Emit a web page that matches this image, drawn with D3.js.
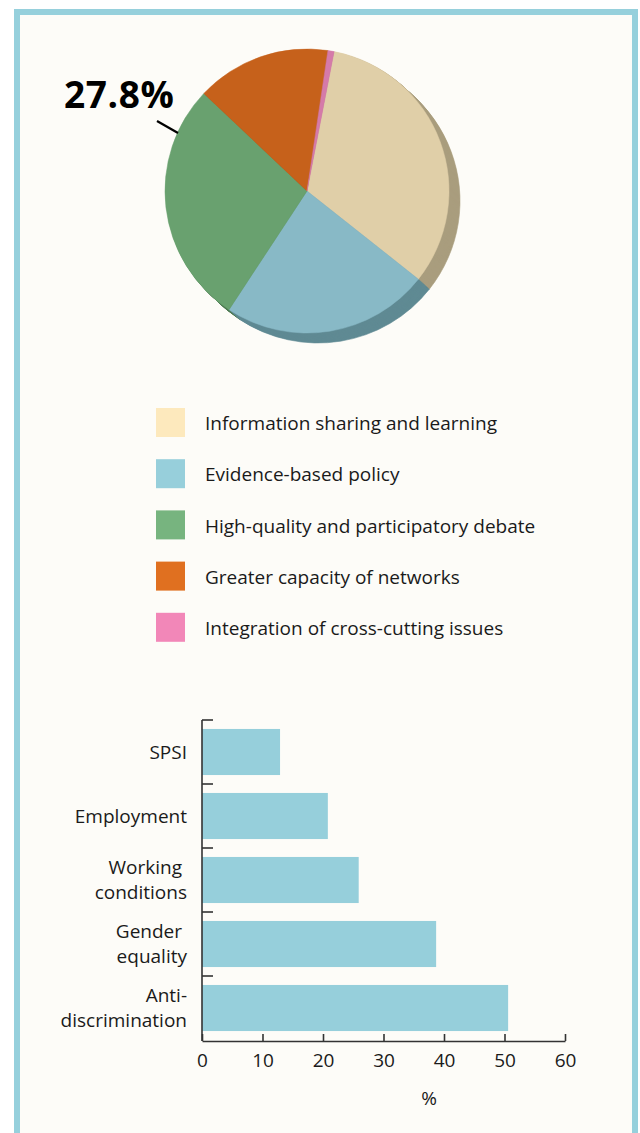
<!DOCTYPE html>
<html>
<head>
<meta charset="utf-8">
<script src="https://cdn.jsdelivr.net/npm/d3@7"></script>
<style>
  body { margin: 0; background: #ffffff; }
  svg { display: block; }
  text { font-family: "Open Sans", "Noto Sans", sans-serif; fill: #1a1a1a; }
</style>
</head>
<body>
<svg id="chart" width="640" height="1133"></svg>
<script>
// ---- Pie: outcome shares (%) ----
const pieCategories = [
  "Information sharing and learning",
  "Evidence-based policy",
  "High-quality and participatory debate",
  "Greater capacity of networks",
  "Integration of cross-cutting issues"
];
const pieValues = [32.6, 23.6, 27.8, 15.3, 0.7];
const pieFaceColors = ["#e0cfa8", "#88b9c6", "#69a16f", "#c6611b", "#d57aa9"];
const pieSideColors = ["#a99d7e", "#5f8a93", "#4d7a52", "#8f4512", "#a05a80"];
const legendColors = ["#fde9bd", "#97cfdb", "#77b47f", "#e07020", "#f287b8"];
const calloutIndex = 2;

// ---- Bars: policy areas (%) ----
const barCategories = [
  ["SPSI"],
  ["Employment"],
  ["Working ", "conditions"],
  ["Gender ", "equality"],
  ["Anti-", "discrimination"]
];
const barValues = [12.9, 20.8, 25.9, 38.7, 50.6];
const xTicks = [0, 10, 20, 30, 40, 50, 60];
const xAxisTitle = "%";

const fontPx = 19;
const svg = d3.select("#chart");

// Panel frame
svg.append("rect")
  .attr("x", 17).attr("y", 12)
  .attr("width", 618).attr("height", 1140)
  .attr("fill", "#fdfcf8")
  .attr("stroke", "#96d0dc")
  .attr("stroke-width", 6);

// ---- Pie with extruded edge ----
const cx = 307, cy = 191, R = 142;
const depthX = 11, depthY = 10, depthSteps = 11;

const pie = d3.pie().sort(null)
  .startAngle(11 * Math.PI / 180)
  .endAngle(11 * Math.PI / 180 + 2 * Math.PI);
const arcs = pie(pieValues);
const arc = d3.arc().innerRadius(0).outerRadius(R);

const pieG = svg.append("g");
for (let k = depthSteps; k >= 1; k--) {
  const t = k / depthSteps;
  pieG.append("g")
    .attr("transform", `translate(${cx + depthX * t},${cy + depthY * t})`)
    .selectAll("path")
    .data(arcs)
    .join("path")
    .attr("d", arc)
    .attr("fill", (d, i) => pieSideColors[i])
    .attr("stroke", (d, i) => pieSideColors[i])
    .attr("stroke-width", 0.6);
}
pieG.append("g")
  .attr("transform", `translate(${cx},${cy})`)
  .selectAll("path")
  .data(arcs)
  .join("path")
  .attr("d", arc)
  .attr("fill", (d, i) => pieFaceColors[i])
  .attr("stroke", (d, i) => pieFaceColors[i])
  .attr("stroke-width", 0.5);

// Callout for the debate share
svg.append("text")
  .attr("x", 64).attr("y", 108)
  .style("font-size", "37px")
  .style("font-weight", 700)
  .style("letter-spacing", "0.6px")
  .style("fill", "#000")
  .text(d3.format(".1f")(pieValues[calloutIndex]) + "%");
svg.append("line")
  .attr("x1", 157).attr("y1", 121)
  .attr("x2", 178).attr("y2", 133)
  .attr("stroke", "#000").attr("stroke-width", 2.2);

// ---- Legend ----
const legendY = d3.scaleLinear().domain([0, 1]).range([408, 459.2]);
const legend = svg.append("g").selectAll("g")
  .data(pieCategories)
  .join("g")
  .attr("transform", (d, i) => `translate(156,${legendY(i)})`);
legend.append("rect")
  .attr("width", 29).attr("height", 29)
  .attr("fill", (d, i) => legendColors[i]);
legend.append("text")
  .attr("x", 49).attr("y", 15.5).attr("dy", "0.35em")
  .style("font-size", fontPx + "px")
  .text(d => d);

// ---- Horizontal bar chart ----
const x = d3.scaleLinear().domain([0, 60]).range([202, 565]);
const y = d3.scaleBand()
  .domain(barCategories.map((d, i) => i))
  .range([720, 1040])
  .paddingInner(0.28)
  .paddingOuter(0.14);

svg.append("g").selectAll("rect")
  .data(barValues)
  .join("rect")
  .attr("x", x(0))
  .attr("y", (d, i) => y(i))
  .attr("width", d => x(d) - x(0))
  .attr("height", y.bandwidth())
  .attr("fill", "#96cfdb");

// x axis
const xAxis = svg.append("g")
  .attr("transform", "translate(0,1041)")
  .call(d3.axisBottom(x).tickValues(xTicks).tickSizeInner(-7).tickSizeOuter(0).tickPadding(13));
xAxis.select(".domain").attr("stroke", "#333").attr("stroke-width", 1.6);
xAxis.selectAll(".tick line").attr("stroke", "#333").attr("stroke-width", 1.6);
xAxis.selectAll(".tick text")
  .style("font-family", "\"Open Sans\", sans-serif")
  .style("font-size", fontPx + "px")
  .attr("fill", "#1a1a1a");

svg.append("text")
  .attr("x", 429).attr("y", 1098).attr("dy", "0.35em")
  .attr("text-anchor", "middle")
  .style("font-size", fontPx + "px")
  .text(xAxisTitle);

// y axis line and band ticks
const step = y.step();
const padTop = step * y.paddingInner() / 2;
svg.append("line")
  .attr("x1", x(0)).attr("x2", x(0))
  .attr("y1", y(0) - padTop).attr("y2", 1041)
  .attr("stroke", "#333").attr("stroke-width", 1.6);
svg.append("g").selectAll("line")
  .data(barCategories)
  .join("line")
  .attr("x1", x(0)).attr("x2", x(0) + 11)
  .attr("y1", (d, i) => y(i) - padTop)
  .attr("y2", (d, i) => y(i) - padTop)
  .attr("stroke", "#333").attr("stroke-width", 1.6);

// category labels
const lineGap = 25.5;
const labels = svg.append("g").selectAll("text")
  .data(barCategories)
  .join("text")
  .attr("text-anchor", "end")
  .style("font-size", fontPx + "px")
  .style("white-space", "pre")
  .attr("x", 187)
  .attr("y", (d, i) => y(i) + y.bandwidth() / 2);
labels.selectAll("tspan")
  .data(d => d.map((s, j) => ({ s, j, n: d.length })))
  .join("tspan")
  .attr("x", 187)
  .attr("dy", d => d.j === 0 ? `${0.35 * fontPx - (d.n - 1) * lineGap / 2}px` : `${lineGap}px`)
  .text(d => d.s);
</script>
</body>
</html>
